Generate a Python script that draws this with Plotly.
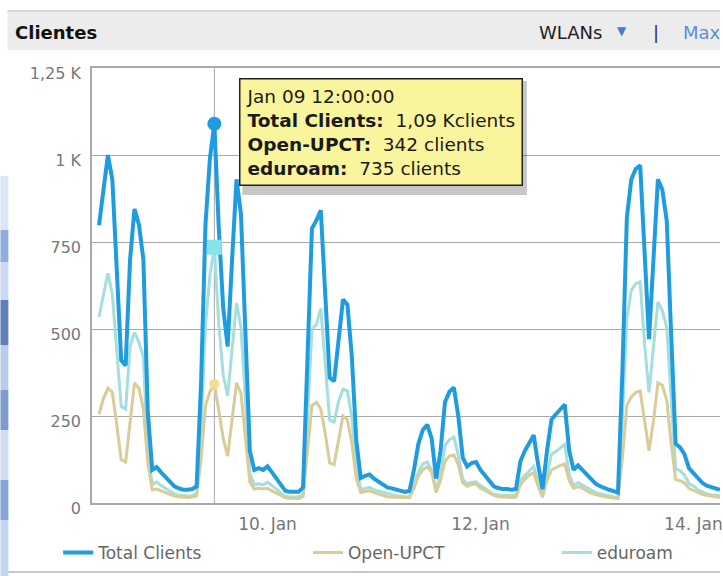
import pandas as pd
import plotly.graph_objects as go

# ---------------- data (hourly samples, from 2014-01-08 10:00) ----------------
START = "2014-01-08 10:00"
HIGHLIGHT = "2014-01-09 12:00"

total_clients = [
    798, 905, 1000, 930, 680, 410, 395, 700, 845, 800,
    700, 260, 95, 103, 88, 75, 60, 48, 42, 38,
    38, 40, 48, 340, 800, 990, 1090, 790, 560, 450,
    700, 930, 830, 480, 150, 95, 100, 95, 105, 88,
    70, 50, 35, 32, 32, 32, 45, 400, 789, 812,
    841, 600, 360, 350, 480, 585, 570, 420, 180, 72,
    78, 82, 70, 62, 55, 45, 42, 38, 35, 32,
    35, 95, 170, 210, 225, 185, 70, 150, 290, 320,
    332, 250, 130, 105, 115, 118, 95, 80, 62, 48,
    43, 40, 40, 38, 40, 120, 150, 175, 195, 110,
    40, 150, 240, 255, 270, 283, 150, 95, 108, 95,
    78, 65, 55, 48, 42, 38, 34, 30, 380, 820,
    930, 960, 970, 700, 471, 700, 930, 900, 810, 480,
    170, 160, 140, 100, 87, 70, 58, 50, 45, 40,
    38,
]

open_upct = [
    255, 300, 330, 318, 225, 125, 118, 240, 345, 330,
    270, 115, 38, 40, 35, 30, 25, 20, 18, 16,
    16, 17, 20, 125, 280, 320, 342, 265, 185, 135,
    240, 345, 315, 190, 60, 40, 42, 40, 42, 35,
    28, 20, 15, 14, 13, 13, 18, 150, 280, 290,
    270, 200, 115, 110, 180, 250, 240, 170, 70, 30,
    33, 35, 30, 26, 22, 18, 17, 16, 15, 14,
    15, 42, 78, 95, 104, 88, 30, 65, 120, 135,
    138, 110, 58, 48, 53, 55, 42, 36, 28, 22,
    18, 17, 17, 16, 17, 52, 68, 80, 87, 48,
    17, 65, 95, 102, 108, 112, 65, 42, 47, 42,
    34, 28, 24, 20, 18, 16, 15, 13, 130, 280,
    305, 318, 322, 235, 150, 235, 345, 338, 295, 170,
    68, 64, 58, 42, 36, 30, 25, 22, 20, 17,
    16,
]

eduroam = [
    535, 597, 660, 600, 447, 277, 270, 450, 490, 462,
    420, 138, 54, 60, 50, 42, 33, 26, 22, 20,
    20, 21, 26, 210, 510, 655, 735, 515, 368, 308,
    450, 575, 505, 285, 85, 52, 55, 52, 60, 50,
    40, 28, 19, 17, 18, 18, 25, 240, 500, 512,
    560, 390, 238, 233, 292, 327, 322, 245, 105, 39,
    42, 45, 38, 34, 31, 26, 24, 21, 19, 17,
    19, 50, 88, 112, 118, 94, 38, 82, 165, 182,
    190, 137, 68, 55, 60, 61, 50, 42, 32, 25,
    23, 22, 22, 21, 22, 65, 79, 92, 105, 60,
    22, 82, 140, 148, 158, 168, 82, 51, 58, 51,
    42, 35, 30, 27, 23, 21, 18, 16, 245, 530,
    612, 630, 636, 455, 318, 455, 578, 552, 505, 300,
    98, 93, 80, 56, 49, 38, 32, 27, 24, 22,
    21,
]

series_names = ["Total Clients", "Open-UPCT", "eduroam"]
y_tick_vals = [0, 250, 500, 750, 1000, 1250]
y_tick_text = ["0", "250", "500", "750", "1 K", "1,25 K"]
x_tick_vals = ["2014-01-10", "2014-01-12", "2014-01-14"]
x_tick_text = ["10. Jan", "12. Jan", "14. Jan"]
x_range = ["2014-01-08 08:25", "2014-01-14 06:00"]

# ---------------- figure ----------------
times = pd.date_range(START, periods=len(total_clients), freq="h")
hi = list(times).index(pd.Timestamp(HIGHLIGHT))

C_TOTAL = "#1f9ce0"
C_OPEN = "#d8cc98"
C_EDU = "#a4dede"
FONT = "DejaVu Sans"


def px_x(px):
    return (px - 92) / 631.0


def px_y(py):
    return (503 - py) / 435.0


fig = go.Figure()

fig.add_trace(go.Scatter(x=times, y=eduroam, name=series_names[2], mode="lines",
                         line=dict(color=C_EDU, width=3), legend="legend3"))
fig.add_trace(go.Scatter(x=times, y=open_upct, name=series_names[1], mode="lines",
                         line=dict(color=C_OPEN, width=3), legend="legend2"))
fig.add_trace(go.Scatter(x=times, y=total_clients, name=series_names[0], mode="lines",
                         line=dict(color=C_TOTAL, width=4), legend="legend"))

# highlighted points (hover state)
fig.add_trace(go.Scatter(x=[times[hi]], y=[open_upct[hi]], mode="markers", showlegend=False,
                         marker=dict(symbol="circle", size=10, color="#f6dc92")))
fig.add_trace(go.Scatter(x=[times[hi]], y=[eduroam[hi]], mode="markers", showlegend=False,
                         marker=dict(symbol="square", size=15, color="#84e4ee")))
fig.add_trace(go.Scatter(x=[times[hi]], y=[total_clients[hi]], mode="markers", showlegend=False,
                         marker=dict(symbol="circle", size=14, color=C_TOTAL)))

# crosshair
fig.add_shape(type="line", xref="x", yref="paper", x0=times[hi], x1=times[hi], y0=0, y1=1,
              line=dict(color="#a8a8a8", width=1), layer="below")

# header bar
fig.add_shape(type="rect", xref="paper", yref="paper", x0=px_x(7), x1=px_x(723),
              y0=px_y(50), y1=px_y(11), fillcolor="#ececec", line=dict(width=0))
fig.add_shape(type="line", xref="paper", yref="paper", x0=px_x(7), x1=px_x(723),
              y0=px_y(11), y1=px_y(11), line=dict(color="#cfcfcf", width=1.5))
# bottom panel line
fig.add_shape(type="line", xref="paper", yref="paper", x0=px_x(7), x1=px_x(723),
              y0=px_y(572), y1=px_y(572), line=dict(color="#c8c8c8", width=2))
# left decorative strip (background of the slide)
strip = [(176, 230, "#dbe7f6"), (230, 262, "#8eaee0"), (262, 300, "#c9daf2"),
         (300, 345, "#5f80b6"), (345, 390, "#b9cdea"), (390, 430, "#7d9ccc"),
         (430, 480, "#cfdff3"), (480, 520, "#86a5d6"), (520, 576, "#c4d6ef")]
for y0, y1, col in strip:
    fig.add_shape(type="rect", xref="paper", yref="paper", x0=px_x(0), x1=px_x(8),
                  y0=px_y(y1), y1=px_y(y0), fillcolor=col, line=dict(width=0))

fig.add_annotation(xref="paper", yref="paper", x=px_x(13), y=px_y(32), xanchor="left",
                   yanchor="middle", showarrow=False, text="<b>Clientes</b>",
                   font=dict(family=FONT, size=18, color="#111"))
fig.add_annotation(xref="paper", yref="paper", x=px_x(539), y=px_y(33), xanchor="left",
                   yanchor="middle", showarrow=False, text="WLANs",
                   font=dict(family=FONT, size=18, color="#222"))
fig.add_annotation(xref="paper", yref="paper", x=px_x(625), y=px_y(31), xanchor="center",
                   yanchor="middle", showarrow=False, text="▼",
                   font=dict(family=FONT, size=12, color="#4a7cc6"))
fig.add_annotation(xref="paper", yref="paper", x=px_x(659), y=px_y(33), xanchor="center",
                   yanchor="middle", showarrow=False, text="|",
                   font=dict(family=FONT, size=18, color="#333"))
fig.add_annotation(xref="paper", yref="paper", x=px_x(684), y=px_y(33), xanchor="left",
                   yanchor="middle", showarrow=False, text="Max",
                   font=dict(family=FONT, size=18, color="#5a8fd8"))

# tooltip
tot_txt = f"{total_clients[hi] / 1000:.2f}".replace(".", ",")
tip = (f"{pd.Timestamp(HIGHLIGHT).strftime('%b %d %H:%M:%S')}<br>"
       f"<b>{series_names[0]}:</b>  {tot_txt} Kclients<br>"
       f"<b>{series_names[1]}:</b>  {open_upct[hi]} clients<br>"
       f"<b>{series_names[2]}:</b>  {eduroam[hi]} clients")
fig.add_shape(type="rect", xref="paper", yref="paper", x0=px_x(243), x1=px_x(529),
              y0=px_y(195), y1=px_y(81), fillcolor="rgba(0,0,0,0.22)", line=dict(width=0))
fig.add_annotation(xref="paper", yref="paper", x=px_x(240), y=px_y(78), xanchor="left",
                   yanchor="top", showarrow=False, text=tip, align="left",
                   bgcolor="#f9f59c", bordercolor="#222", borderwidth=1.5, borderpad=6,
                   font=dict(family=FONT, size=18.5, color="#1a1a1a"))

legend_common = dict(orientation="h", yanchor="middle", xanchor="left",
                     font=dict(family=FONT, size=17, color="#666"),
                     bgcolor="rgba(0,0,0,0)", borderwidth=0)

fig.update_layout(
    width=723, height=576, autosize=False,
    margin=dict(l=92, r=0, t=68, b=73),
    paper_bgcolor="white", plot_bgcolor="white",
    hovermode=False,
    showlegend=True,
    legend=dict(x=px_x(58), y=px_y(553), **legend_common),
    legend2=dict(x=px_x(309), y=px_y(553), **legend_common),
    legend3=dict(x=px_x(559), y=px_y(553), **legend_common),
    xaxis=dict(type="date", range=x_range, tickvals=x_tick_vals, ticktext=x_tick_text,
               showgrid=False, showline=True, linecolor="#a8a8a8", linewidth=1.5, mirror=True,
               ticks="outside", ticklen=5, tickcolor="rgba(0,0,0,0)",
               ticklabeloverflow="allow",
               tickfont=dict(family=FONT, size=17, color="#777"), zeroline=False),
    yaxis=dict(range=[0, 1250], tickvals=y_tick_vals, ticktext=y_tick_text,
               showgrid=True, gridcolor="#a8a8a8", gridwidth=1,
               showline=True, linecolor="#a8a8a8", linewidth=1.5,
               ticks="outside", ticklen=6, tickcolor="rgba(0,0,0,0)", ticklabelshift=5,
               tickfont=dict(family=FONT, size=16, color="#777"), zeroline=False),
)

fig.write_html("out.html", config={"displayModeBar": False},
               post_script="document.body.style.margin='0';document.body.style.overflow='hidden';")
